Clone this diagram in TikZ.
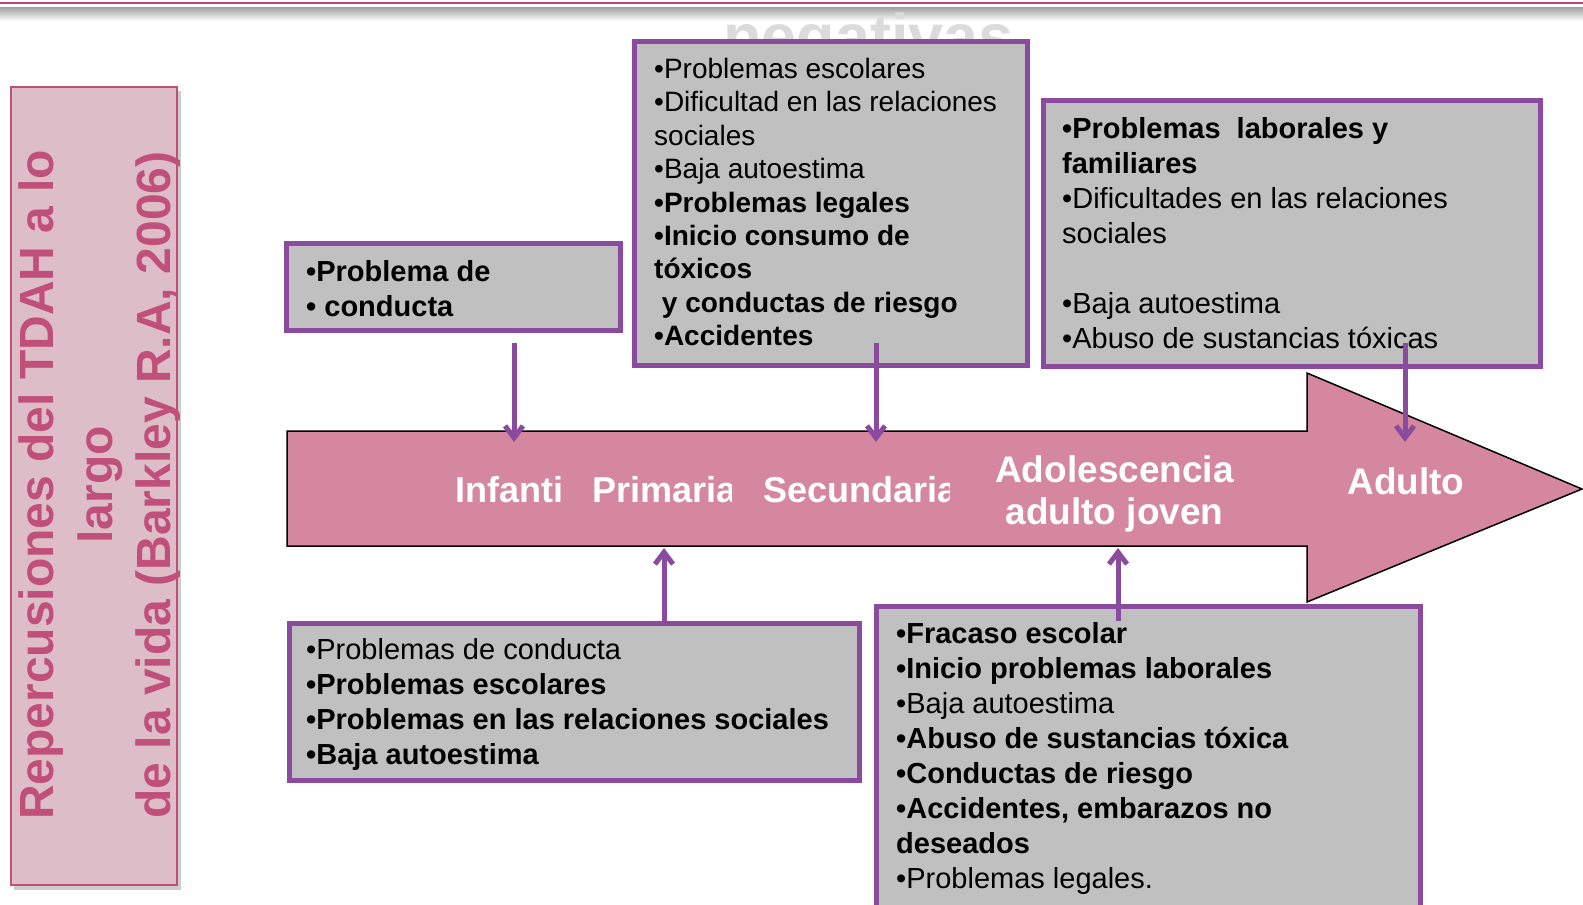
\documentclass[tikz,border=0pt]{standalone}
\usepackage{fontspec}
\setmainfont{Liberation Sans}
\usetikzlibrary{arrows.meta}
\definecolor{boxpurple}{RGB}{138,74,157}
\definecolor{boxgray}{RGB}{192,192,192}
\definecolor{arrowpink}{RGB}{214,135,160}
\definecolor{titlefill}{RGB}{221,189,199}
\definecolor{titlepink}{RGB}{192,80,122}
\definecolor{topline}{RGB}{190,72,112}
\begin{document}
\begin{tikzpicture}[x=1pt,y=-1pt,
  infobox/.style={draw=boxpurple, line width=5pt, fill=boxgray, rectangle, inner sep=0pt},
  infotext/.style={anchor=north west, inner sep=0pt, align=left, text=black},
  txtA/.style={font=\fontsize{28}{33.4}\selectfont},
  txtB/.style={font=\fontsize{29}{35}\selectfont},
  connector/.style={draw=boxpurple, line width=5pt, -{Straight Barb[length=12pt,width=18pt]}},
  stage/.style={text=white, font=\bfseries\fontsize{36}{41}\selectfont, inner sep=0pt},
]
\useasboundingbox (0,0) rectangle (1583,905);
\fill[white] (0,0) rectangle (1583,905);

% top decoration
\shade[top color=gray!75, bottom color=white] (0,7) rectangle (1583,21);
\draw[topline, line width=2pt] (0,2.5) -- (1583,2.5);
\node[anchor=base west, inner sep=0pt, font=\bfseries\fontsize{63}{63}\selectfont, text=gray!28] (neg) at (723,58) {negativas};

% title box
\fill[gray!40] (14,91) rectangle (181,890);
\node[draw=titlepink, line width=2pt, fill=titlefill, minimum width=166pt, minimum height=798pt, inner sep=0pt] (titlebox) at (94,486) {};
\node[rotate=90, align=center, inner sep=0pt, text=titlepink, font=\bfseries\fontsize{48}{58.5}\selectfont] (title) at (100,485) {Repercusiones del TDAH a lo\\largo\\de la vida (Barkley R.A, 2006)};

% big arrow
\draw[fill=arrowpink, draw=black, line width=1.5pt, line join=miter]
  (287,431) -- (1307,431) -- (1307,373) -- (1582,489) -- (1307,602) -- (1307,546) -- (287,546) -- cycle;
\coordinate (hA) at (514,442);
\coordinate (hB) at (876,442);
\coordinate (hC) at (1405,442);
\coordinate (hD) at (664,548);
\coordinate (hE) at (1118,548);

% stage labels
\node[stage, anchor=base west] (lInf) at (455,502) {Infanti};
\begin{scope}
\clip (580,440) rectangle (731,540);
\node[stage, anchor=base west] (lPri) at (592,502) {Primaria};
\end{scope}
\begin{scope}
\clip (750,440) rectangle (949,540);
\node[stage, anchor=base west] (lSec) at (763,502) {Secundaria};
\end{scope}
\node[stage, anchor=north, align=center, font=\bfseries\fontsize{37}{41.5}\selectfont] (lAdo) at (1114.5,455.5) {Adolescencia\\adulto joven};
\node[stage, anchor=base, font=\bfseries\fontsize{37}{41.5}\selectfont] (lAdu) at (1406,494) {Adulto};

% boxes
\node[infobox, minimum width=334pt, minimum height=87pt] (boxA) at (453,286.5) {};
\node[infotext, txtB] (tA) at (306,260) {\textbf{•Problema de}\\\textbf{• conducta}};

\node[infobox, minimum width=393pt, minimum height=324pt] (boxB) at (830.5,203) {};
\node[infotext, txtA] (tB) at (654,58) {•Problemas escolares\\•Dificultad en las relaciones\\sociales\\•Baja autoestima\\\textbf{•Problemas legales}\\\textbf{•Inicio consumo de}\\\textbf{tóxicos}\\\textbf{\ y conductas de riesgo}\\\textbf{•Accidentes}};

\node[infobox, minimum width=497pt, minimum height=266pt] (boxC) at (1291.5,233) {};
\node[infotext, txtB] (tC) at (1062,117) {\textbf{•Problemas\ \ laborales y}\\\textbf{familiares}\\•Dificultades en las relaciones\\sociales\\[35pt]•Baja autoestima\\•Abuso de sustancias tóxicas};

\node[infobox, minimum width=570pt, minimum height=157pt] (boxD) at (574,701.5) {};
\node[infotext, txtB] (tD) at (306,638) {•Problemas de conducta\\\textbf{•Problemas escolares}\\\textbf{•Problemas en las relaciones sociales}\\\textbf{•Baja autoestima}};

\node[infobox, minimum width=544pt, minimum height=334pt] (boxE) at (1148,773) {};
\node[infotext, txtB] (tE) at (896,622) {\textbf{•Fracaso escolar}\\\textbf{•Inicio problemas laborales}\\•Baja autoestima\\\textbf{•Abuso de sustancias tóxica}\\\textbf{•Conductas de riesgo}\\\textbf{•Accidentes, embarazos no}\\\textbf{deseados}\\•Problemas legales.};

% connectors
\coordinate (sA) at (514,343);
\coordinate (sB) at (876,343);
\coordinate (sC) at (1405,343);
\coordinate (sD) at (664,621);
\coordinate (sE) at (1118,621);
\draw[connector] (sA) -- (hA);
\draw[connector] (sB) -- (hB);
\draw[connector] (sC) -- (hC);
\draw[connector] (sD) -- (hD);
\draw[connector] (sE) -- (hE);
\end{tikzpicture}
\end{document}
